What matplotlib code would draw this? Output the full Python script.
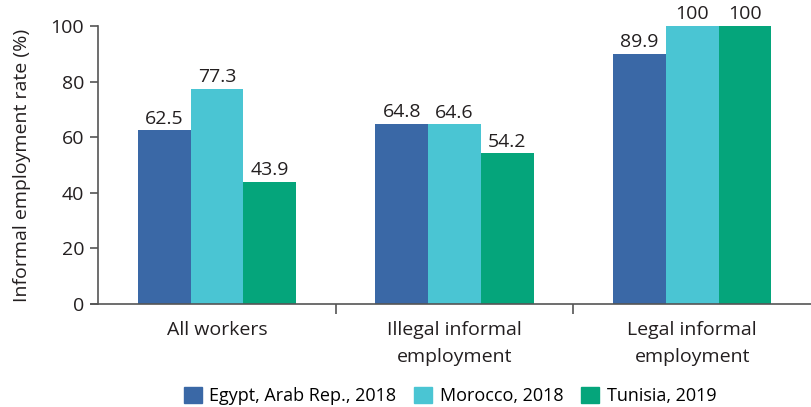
import numpy as np
import matplotlib.pyplot as plt
from matplotlib.patches import Patch

plt.rcParams['font.family'] = ['Open Sans', 'DejaVu Sans']

categories = ['All workers', 'Illegal informal\nemployment', 'Legal informal\nemployment']
series = ['Egypt, Arab Rep., 2018', 'Morocco, 2018', 'Tunisia, 2019']
egypt = [62.5, 64.8, 89.9]
morocco = [77.3, 64.6, 100]
tunisia = [43.9, 54.2, 100]
labels = [['62.5', '64.8', '89.9'], ['77.3', '64.6', '100'], ['43.9', '54.2', '100']]
colors = ['#3A68A6', '#4AC5D3', '#05A57B']
fs = 14

fig = plt.figure(figsize=(8.11, 4.07), dpi=100)
ax = fig.add_axes([0.121, 0.253, 0.879, 0.683])

x = np.arange(len(categories))
w = 0.222
for i, vals in enumerate([egypt, morocco, tunisia]):
    bars = ax.bar(x + (i - 1) * w, vals, w, color=colors[i], label=series[i])
    for b, t in zip(bars, labels[i]):
        ax.text(b.get_x() + b.get_width() / 2, b.get_height() + 1.0, t,
                ha='center', va='bottom', fontsize=fs, color='#231f20')

ax.set_xlim(-0.5, 2.5)
ax.set_ylim(0, 100)
ax.set_yticks([0, 20, 40, 60, 80, 100])
ax.set_xticks([0.5, 1.5])
ax.set_xticklabels([])
ax.set_xticks(x, minor=True)
ax.set_xticklabels(categories, minor=True, fontsize=fs, color='#231f20',
                   linespacing=1.65)
ax.tick_params(axis='x', which='minor', length=0, pad=12)
ax.tick_params(axis='x', which='major', length=7, width=1.2, color='#555555')
ax.tick_params(axis='y', length=6, width=1.2, color='#555555', labelsize=fs,
               labelcolor='#231f20', pad=4)
for s in ['top', 'right']:
    ax.spines[s].set_visible(False)
for s in ['left', 'bottom']:
    ax.spines[s].set_color('#555555')
    ax.spines[s].set_linewidth(1.2)
ax.spines['bottom'].set_bounds(-0.53, 2.5)
ax.set_ylabel('Informal employment rate (%)', fontsize=fs, color='#231f20',
              labelpad=14)

handles = [Patch(color=c) for c in colors]
fig.legend(handles, series, loc='lower center', bbox_to_anchor=(0.555, -0.035),
           ncol=3, frameon=False, fontsize=13, handlelength=1.0, handleheight=1.0,
           handletextpad=0.4, columnspacing=1.0)

fig.savefig('out.png', dpi=100)
